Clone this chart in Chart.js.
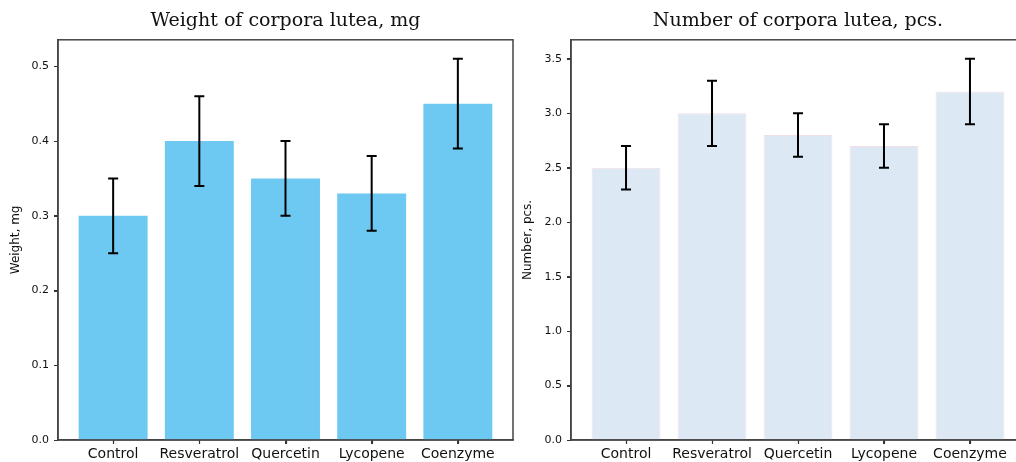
<!DOCTYPE html>
<html>
<head>
<meta charset="utf-8">
<script src="https://cdn.jsdelivr.net/npm/chart.js@4.4.1/dist/chart.umd.min.js"></script>
<style>
  html, body { margin: 0; padding: 0; background: #fff; overflow: hidden; }
  body { width: 1016px; height: 462px; position: relative; }
  .box { position: absolute; top: 0; height: 462px; }
  #leftBox { left: 0; width: 516px; }
  #rightBox { left: 516px; width: 520px; }
</style>
</head>
<body>
<div class="box" id="leftBox"><canvas id="weightChart"></canvas></div>
<div class="box" id="rightBox"><canvas id="numberChart"></canvas></div>
<script>
// data
const groups = ["Control", "Resveratrol", "Quercetin", "Lycopene", "Coenzyme"];
const weightMean = [0.30, 0.40, 0.35, 0.33, 0.45];
const weightErr = [0.05, 0.06, 0.05, 0.05, 0.06];
const numberMean = [2.5, 3.0, 2.8, 2.7, 3.2];
const numberErr = [0.2, 0.3, 0.2, 0.2, 0.3];

// error bars, closed frame and outward tick marks
const errorBarPlugin = {
  id: 'errorBars',
  afterDatasetsDraw(chart, args, opts) {
    const ctx = chart.ctx;
    const xs = chart.scales.x, ys = chart.scales.y;
    const means = opts.means, errs = opts.errs;
    ctx.save();
    ctx.strokeStyle = '#000';
    ctx.lineWidth = 2;
    for (let i = 0; i < means.length; i++) {
      const x = xs.getPixelForValue(i);
      const yLo = ys.getPixelForValue(means[i] - errs[i]);
      const yHi = ys.getPixelForValue(means[i] + errs[i]);
      ctx.beginPath();
      ctx.moveTo(x, yLo); ctx.lineTo(x, yHi);
      ctx.moveTo(x - 5, yLo); ctx.lineTo(x + 5, yLo);
      ctx.moveTo(x - 5, yHi); ctx.lineTo(x + 5, yHi);
      ctx.stroke();
    }
    const a = chart.chartArea;
    ctx.strokeStyle = '#333';
    ctx.lineWidth = 1.2;
    ctx.beginPath();
    xs.ticks.forEach(t => {
      const x = Math.round(xs.getPixelForValue(t.value)) + 0.5;
      ctx.moveTo(x, a.bottom); ctx.lineTo(x, a.bottom + 4);
    });
    ys.ticks.forEach(t => {
      const y = Math.round(ys.getPixelForValue(t.value)) + 0.5;
      ctx.moveTo(a.left, y); ctx.lineTo(a.left - 4, y);
    });
    ctx.stroke();
    ctx.strokeStyle = '#444';
    ctx.lineWidth = 1.5;
    ctx.strokeRect(a.left, a.top, a.right - a.left, a.bottom - a.top);
    ctx.restore();
  }
};

function makeChart(id, title, yTitle, means, errs, color, edge, yMax, step, yWidth, padRight, titlePad) {
  return new Chart(document.getElementById(id), {
    type: 'bar',
    data: {
      datasets: [{
        data: means.map((v, i) => ({ x: i, y: v })),
        backgroundColor: color,
        borderColor: edge,
        borderWidth: edge ? 1 : 0,
        barPercentage: 0.8,
        categoryPercentage: 1.0
      }]
    },
    options: {
      responsive: true,
      maintainAspectRatio: false,
      animation: false,
      layout: { padding: { left: 0, right: padRight, top: 0, bottom: 0 } },
      plugins: {
        legend: { display: false },
        tooltip: { enabled: false },
        title: {
          display: true,
          fullSize: false,
          text: title,
          color: '#111',
          font: { family: 'DejaVu Serif', size: 19, weight: 'normal' },
          padding: { top: 10, bottom: 7 }
        },
        errorBars: { means: means, errs: errs }
      },
      scales: {
        x: {
          type: 'linear',
          offset: false,
          min: -0.64,
          max: 4.64,
          afterBuildTicks: s => { s.ticks = groups.map((g, i) => ({ value: i })); },
          afterFit: s => { s.height = 22; },
          ticks: {
            autoSkip: false,
            maxRotation: 0,
            padding: 2,
            color: '#111',
            font: { family: 'DejaVu Sans', size: 14 },
            callback: v => groups[v]
          },
          grid: { display: true, offset: false, drawOnChartArea: false, drawTicks: true, tickLength: 4, tickColor: '#333', color: '#333' },
          border: { display: true, color: '#444', width: 1.5 }
        },
        y: {
          min: 0,
          max: yMax,
          afterFit: s => { s.width = yWidth; },
          ticks: {
            stepSize: step,
            includeBounds: false,
            padding: 5,
            color: '#111',
            font: { family: 'DejaVu Sans', size: 11 },
            callback: v => v.toFixed(1)
          },
          grid: { drawOnChartArea: false, drawTicks: true, tickLength: 4, tickColor: '#333', color: '#333' },
          border: { display: true, color: '#444', width: 1.5 },
          title: {
            display: true,
            text: yTitle,
            color: '#111',
            font: { family: 'DejaVu Sans', size: 12 },
            padding: { top: titlePad, bottom: 0 }
          }
        }
      }
    },
    plugins: [errorBarPlugin]
  });
}

makeChart('weightChart', 'Weight of corpora lutea, mg', 'Weight, mg',
  weightMean, weightErr, '#6DC9F2', null, 0.5355, 0.1, 58, 3, 9);
makeChart('numberChart', 'Number of corpora lutea, pcs.', 'Number, pcs.',
  numberMean, numberErr, '#DDE8F5', 'rgba(232,196,206,0.55)', 3.675, 0.5, 55, 11, 5);
</script>
</body>
</html>
